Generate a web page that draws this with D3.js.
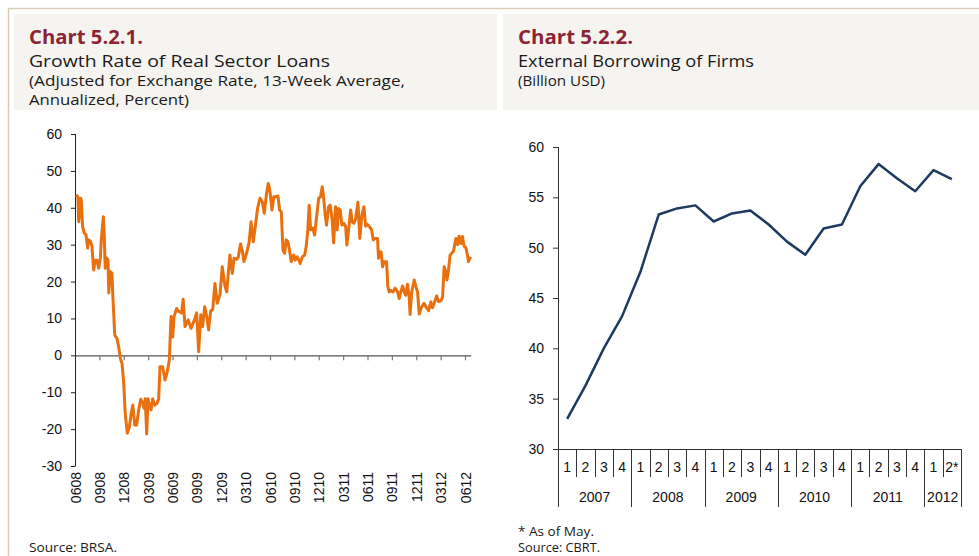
<!DOCTYPE html>
<html><head><meta charset="utf-8">
<script src="https://cdn.jsdelivr.net/npm/d3@7"></script>
<style>body{margin:0;background:#fff}svg{display:block}</style>
</head><body>
<svg id="c" width="979" height="556"></svg>
<script>
// ---- Chart 5.2.1 data (weeks since early June 2008, growth %) ----
const loanWeeks = [0.3,1.3,1.7,2.8,3.1,3.8,4.7,5.6,6.5,7.0,7.9,8.8,9.7,10.6,11.5,12.4,13.3,13.8,14.9,15.4,15.9,16.7,17.4,17.8,18.6,19.5,19.9,21.0,22.2,23.1,24.0,24.9,25.8,26.6,27.7,28.8,29.8,30.7,31.7,32.7,33.8,34.9,35.9,36.8,37.3,38.1,38.8,39.5,40.4,41.3,42.4,43.6,44.5,45.2,46.6,47.9,49.1,50.2,51.1,52.0,52.7,54.1,55.0,56.8,57.6,58.6,60.3,61.8,63.9,64.8,65.9,67.0,68.0,69.1,70.2,71.2,72.3,73.4,74.6,75.8,77.3,78.5,79.9,80.9,82.6,83.9,84.8,86.2,87.1,88.3,89.2,90.1,91.6,92.9,93.9,95.1,96.4,97.4,98.7,99.9,101.0,102.2,103.1,103.9,105.1,106.1,107.4,108.3,109.2,110.1,111.0,111.9,112.7,113.6,114.5,115.4,116.7,117.5,118.6,119.5,120.2,121.3,122.6,123.4,124.3,125.0,125.8,127.0,127.9,129.1,130.1,131.1,132.0,132.7,133.6,134.3,135.4,136.3,137.3,138.1,139.1,140.0,140.7,141.6,142.5,143.6,144.5,145.2,146.3,147.2,148.0,148.9,149.8,151.1,152.1,153.2,154.3,155.2,155.9,157.1,158.4,159.3,160.3,161.6,162.1,162.8,163.5,164.3,165.1,166.4,167.1,167.8,168.7,169.9,171.0,172.3,173.2,174.0,175.0,175.8,176.7,177.6,178.5,179.0,179.9,181.2,182.1,183.0,183.9,184.8,185.7,186.5,187.4,188.9,190.1,191.0,191.9,193.2,194.2,195.5,196.4,197.2,198.1,198.7,199.6,200.4,201.3,202.2,203.5,204.4,205.2,206.1,207.0,207.9,208.8,209.7,210.2,211.4];
const loanGrowth = [43.5,43.0,36.2,42.6,42.0,34.9,33.1,32.7,29.1,31.3,31.0,29.6,23.1,25.8,25.8,23.6,26.4,31.3,37.6,32.2,23.6,26.4,25.8,16.9,22.7,22.3,16.9,5.5,4.6,2.3,-0.8,-2.2,-7.6,-15.7,-21.1,-19.5,-15.7,-13.5,-18.9,-18.9,-14.8,-11.9,-13.0,-14.4,-11.8,-21.3,-11.8,-13.5,-14.8,-11.8,-13.5,-13.0,-11.8,-3.1,-3.1,-6.7,-4.4,-1.3,10.5,5.0,10.5,12.7,12.0,11.5,15.2,7.8,9.6,7.3,10.0,11.5,1.0,11.0,7.8,13.2,10.5,6.9,12.0,12.4,19.5,14.1,16.4,24.0,19.0,17.2,27.2,22.2,26.3,26.0,26.7,30.2,28.5,25.4,27.8,30.6,36.2,30.8,35.8,39.8,42.6,41.7,38.5,43.9,46.6,45.0,39.4,43.0,43.0,43.2,39.4,38.9,28.5,27.7,31.3,30.8,28.5,25.4,27.2,25.8,26.7,25.8,24.9,26.7,27.2,29.4,34.0,40.7,34.0,34.5,32.6,38.0,42.6,43.0,45.7,43.0,38.0,35.3,40.3,40.7,36.8,30.5,40.3,34.0,39.8,39.4,35.3,35.8,35.0,29.9,35.0,39.4,36.2,35.8,36.8,41.5,31.7,38.0,40.3,35.0,35.6,35.0,34.0,31.3,31.7,31.7,26.3,28.0,28.0,24.0,25.4,25.4,18.6,17.2,17.6,17.2,18.2,17.2,15.4,17.2,18.8,17.2,16.3,19.3,16.0,11.1,17.2,20.4,18.7,17.2,11.2,12.7,13.5,14.1,13.2,12.1,14.5,12.9,14.1,16.1,14.6,14.8,15.8,24.0,22.7,20.4,23.3,27.2,27.7,28.2,31.7,30.0,32.3,30.3,32.2,29.6,29.2,27.2,25.4,26.7];
const loanTickLabels = ["0608","0908","1208","0309","0609","0909","1209","0310","0610","0910","1210","0311","0611","0911","1211","0312","0612"];
const loanYTicks = [60,50,40,30,20,10,0,-10,-20,-30];

// ---- Chart 5.2.2 data (quarterly, billion USD) ----
const quarterLabels = ["1","2","3","4","1","2","3","4","1","2","3","4","1","2","3","4","1","2","3","4","1","2*"];
const yearLabels = ["2007","2008","2009","2010","2011","2012"];
const yearQuarterCounts = [4,4,4,4,4,2];
const borrowing = [33.0,36.3,40.0,43.2,47.6,53.3,53.9,54.2,52.6,53.4,53.7,52.3,50.6,49.3,51.9,52.3,56.1,58.3,56.9,55.6,57.7,56.8];
const borrowYTicks = [60,55,50,45,40,35,30];

const svg = d3.select("#c");
const HF = "'Open Sans','Noto Sans',sans-serif";
const AF = "'Liberation Sans',Arial,sans-serif";

// frame lines
svg.append("line").attr("x1",8).attr("x2",979).attr("y1",8.5).attr("y2",8.5).attr("stroke","#d9ccb3").attr("stroke-width",1.5);
svg.append("line").attr("x1",8.5).attr("x2",8.5).attr("y1",8).attr("y2",556).attr("stroke","#d9ccb3").attr("stroke-width",1.5);

// header boxes
svg.append("rect").attr("x",14).attr("y",14).attr("width",483).attr("height",96).attr("fill","#f6f4f0");
svg.append("rect").attr("x",503).attr("y",14).attr("width",476).attr("height",96).attr("fill","#f6f4f0");

function txt(x,y,s,size,opts){
  const t = svg.append("text").attr("x",x).attr("y",y).text(s)
    .attr("font-family",opts.ff||HF).attr("font-size",size).attr("fill",opts.fill||"#1a1a1a");
  if(opts.bold) t.attr("font-weight","bold");
  if(opts.w) t.attr("textLength",opts.w).attr("lengthAdjust","spacingAndGlyphs");
  if(opts.anchor) t.attr("text-anchor",opts.anchor);
  return t;
}
const red = "#8c2434";
txt(29,44,"Chart 5.2.1.",19,{bold:true,fill:red,w:114});
txt(29,67,"Growth Rate of Real Sector Loans",17,{w:301});
txt(29,86,"(Adjusted for Exchange Rate, 13-Week Average,",14,{w:376});
txt(29,105,"Annualized, Percent)",14,{w:160});
txt(518,44,"Chart 5.2.2.",19,{bold:true,fill:red,w:115});
txt(518,67,"External Borrowing of Firms",17,{w:236});
txt(518,86,"(Billion USD)",14,{w:87});

txt(29,552,"Source: BRSA.",12,{w:88});
txt(518,536,"* As of May.",12,{w:76});
txt(518,552,"Source: CBRT.",12,{w:82});

// ---------- Left chart ----------
const QW = 13.04;
const xL = d3.scaleLinear().domain([0,16*QW]).range([75.5,465.5]);
const yL = d3.scaleLinear().domain([-30,60]).range([466,134]);
const gL = svg.append("g");
// y axis
gL.append("line").attr("x1",75.5).attr("x2",75.5).attr("y1",yL(60)).attr("y2",yL(-30)).attr("stroke","#222").attr("stroke-width",1);
loanYTicks.forEach(v=>{
  gL.append("line").attr("x1",71).attr("x2",75.5).attr("y1",yL(v)+0.5).attr("y2",yL(v)+0.5).attr("stroke","#222");
  gL.append("text").attr("x",62).attr("y",yL(v)).attr("dy","0.36em").attr("text-anchor","end")
    .attr("font-family",AF).attr("font-size",14).attr("fill","#111").text(v);
});
// zero line + ticks
gL.append("line").attr("x1",75.5).attr("x2",471).attr("y1",yL(0)+0.5).attr("y2",yL(0)+0.5).attr("stroke","#555").attr("stroke-width",1.2);
loanTickLabels.forEach((s,i)=>{
  const x = xL(i*QW);
  if(i>0) gL.append("line").attr("x1",x).attr("x2",x).attr("y1",yL(0)).attr("y2",yL(0)+5).attr("stroke","#777").attr("stroke-width",1.2);
  gL.append("text").attr("transform",`translate(${x},472) rotate(-90)`).attr("dy","0.36em").attr("text-anchor","end")
    .attr("font-family",AF).attr("font-size",14).attr("fill","#111").text(s);
});
const lineL = d3.line().x((d,i)=>xL(loanWeeks[i])).y(d=>yL(d)).curve(d3.curveLinear);
gL.append("path").attr("d",lineL(loanGrowth)).attr("fill","none").attr("stroke","#e8700e").attr("stroke-width",3).attr("stroke-linejoin","round");

// ---------- Right chart ----------
const x0 = 558, x1 = 961;
const xR = d3.scaleBand().domain(d3.range(borrowing.length)).range([x0,x1]).paddingInner(0).paddingOuter(0);
const yR = d3.scaleLinear().domain([30,60]).range([449,147]);
const gR = svg.append("g");
gR.append("line").attr("x1",x0+0.5).attr("x2",x0+0.5).attr("y1",yR(60)).attr("y2",507).attr("stroke","#333");
borrowYTicks.forEach(v=>{
  gR.append("line").attr("x1",553).attr("x2",x0+0.5).attr("y1",yR(v)+0.5).attr("y2",yR(v)+0.5).attr("stroke","#333");
  gR.append("text").attr("x",544).attr("y",yR(v)).attr("dy","0.36em").attr("text-anchor","end")
    .attr("font-family",AF).attr("font-size",14).attr("fill","#111").text(v);
});
gR.append("line").attr("x1",x0).attr("x2",x1).attr("y1",yR(30)+0.5).attr("y2",yR(30)+0.5).attr("stroke","#333");
// separators
let cum = 0;
const yearStarts = [];
yearQuarterCounts.forEach(c=>{yearStarts.push(cum); cum+=c;});
for(let i=1;i<=borrowing.length;i++){
  const x = Math.round(i<borrowing.length ? xR(i) : x1)+0.5;
  const isYear = yearStarts.includes(i) || i===borrowing.length;
  gR.append("line").attr("x1",x).attr("x2",x).attr("y1",yR(30)).attr("y2",isYear?507:477).attr("stroke","#333");
}
quarterLabels.forEach((s,i)=>{
  gR.append("text").attr("x",xR(i)+xR.bandwidth()/2).attr("y",467).attr("dy","0.36em").attr("text-anchor","middle")
    .attr("font-family",AF).attr("font-size",14).attr("fill","#111").text(s);
});
yearLabels.forEach((s,j)=>{
  const a = xR(yearStarts[j]);
  const b = yearStarts[j]+yearQuarterCounts[j] < borrowing.length ? xR(yearStarts[j]+yearQuarterCounts[j]) : x1;
  gR.append("text").attr("x",(a+b)/2).attr("y",497).attr("dy","0.36em").attr("text-anchor","middle")
    .attr("font-family",AF).attr("font-size",14).attr("fill","#111").text(s);
});
const lineR = d3.line().x((d,i)=>xR(i)+xR.bandwidth()/2).y(d=>yR(d));
gR.append("path").attr("d",lineR(borrowing)).attr("fill","none").attr("stroke","#1f3a60").attr("stroke-width",2.5).attr("stroke-linejoin","round");
</script>
</body></html>
